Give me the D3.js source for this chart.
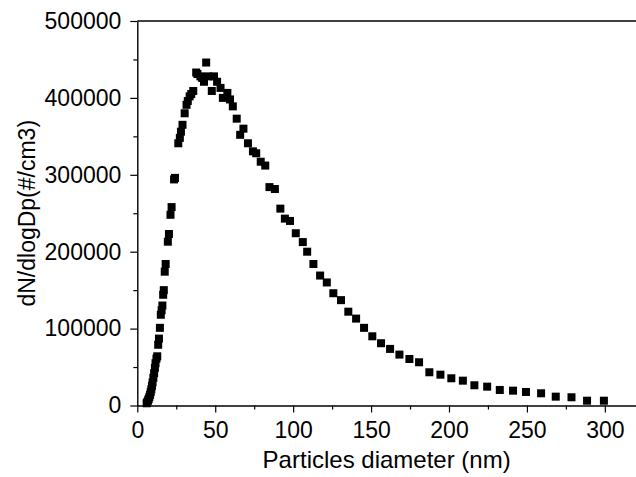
<!DOCTYPE html>
<html>
<head>
<meta charset="utf-8">
<script src="https://cdn.jsdelivr.net/npm/d3@7"></script>
<style>
  html, body { margin: 0; padding: 0; background: #fff; }
  svg text { font-family: "Liberation Sans", Arial, sans-serif; fill: #000; }
</style>
</head>
<body>
<svg id="chart" width="636" height="477"></svg>
<script>
// Particle size distribution
const diameter = [
  6.0, 6.4, 6.9, 7.3, 7.7, 8.2, 8.6, 9.0, 9.4, 9.8,
  10.3, 10.8, 11.3, 11.7, 12.3, 12.8, 13.4, 13.9, 14.5, 15.1,
  15.6, 16.1, 16.6, 17.0, 17.6, 18.2, 19.6, 20.3, 21.3, 22.0,
  23.6, 24.2, 26.3, 27.3, 28.0, 29.0, 30.4, 31.6, 32.4, 33.6,
  34.6, 35.9, 37.8, 38.6, 40.5, 41.6, 42.8, 44.2, 45.4, 47.8,
  49.2, 51.2, 53.4, 54.9, 57.8, 59.5, 61.3, 63.8, 66.0, 68.1,
  71.0, 74.2, 76.3, 79.2, 82.1, 84.8, 88.3, 91.8, 94.7, 98.0,
  101.7, 106.2, 109.0, 113.0, 117.3, 121.6, 125.8, 130.7, 135.4, 140.4,
  145.5, 150.8, 156.4, 162.2, 168.2, 174.6, 180.8, 187.4, 194.5, 201.5,
  208.9, 216.3, 224.5, 232.6, 241.1, 249.4, 259.1, 268.5, 278.6, 288.6,
  299.4
];
const dNdlogDp = [
  2900, 4500, 6500, 8500, 11000, 14000, 17500, 21000, 25500, 30000,
  36000, 42000, 49000, 55000, 61000, 64000, 79000, 87000, 101000, 118000,
  124000, 130000, 144000, 150000, 174000, 184000, 213000, 223000, 248000, 258000,
  294000, 296000, 341000, 348000, 356000, 365000, 380000, 391000, 396000, 402000,
  405000, 409000, 433000, 431000, 428000, 426000, 421000, 446000, 428000, 409000,
  428000, 421000, 413000, 400000, 406500, 398000, 389000, 373000, 352000, 360000,
  341000, 330500, 328000, 317000, 312000, 284000, 281500, 256000, 243000, 240000,
  224000, 212500, 200000, 184000, 169000, 160000, 146000, 137000, 122000, 113000,
  101000, 90000, 81000, 73600, 66200, 60500, 56200, 43200, 40100, 35400,
  32300, 26300, 24500, 20200, 19300, 17600, 15900, 11500, 10700, 6250,
  6250
];
const xTicks = [0, 50, 100, 150, 200, 250, 300];
const xMinor = [25, 75, 125, 175, 225, 275];
const yTicks = [0, 100000, 200000, 300000, 400000, 500000];
const yMinor = [50000, 150000, 250000, 350000, 450000];

const svg = d3.select('#chart');
const W = 636, H = 477;
const m = { top: 21, right: 0, bottom: 71.5, left: 137.3 };
const iw = W - m.left - m.right;
const ih = H - m.top - m.bottom;

const x = d3.scaleLinear().domain([0, 320]).range([0, iw]);
const y = d3.scaleLinear().domain([0, 500000]).range([ih, 0]);

const g = svg.append('g').attr('transform', `translate(${m.left},${m.top})`);

// minor ticks first, no labels
g.append('g').attr('transform', `translate(0,${ih})`)
  .call(d3.axisBottom(x).tickValues(xMinor).tickSize(4).tickSizeOuter(0).tickFormat(''))
  .call(a => a.select('.domain').remove());
g.append('g')
  .call(d3.axisLeft(y).tickValues(yMinor).tickSize(4).tickSizeOuter(0).tickFormat(''))
  .call(a => a.select('.domain').remove());

// major axes
const xAxis = g.append('g').attr('transform', `translate(0,${ih})`)
  .call(d3.axisBottom(x).tickValues(xTicks).tickSize(7).tickSizeOuter(0).tickPadding(9).tickFormat(d3.format('d')));
const yAxis = g.append('g')
  .call(d3.axisLeft(y).tickValues(yTicks).tickSize(7).tickSizeOuter(0).tickPadding(9).tickFormat(d3.format('d')));

[xAxis, yAxis].forEach(a => {
  a.selectAll('text').attr('font-size', 23).attr('font-family', '"Liberation Sans", Arial, sans-serif');
  a.select('.domain').attr('stroke-width', 1.4);
});
g.selectAll('.tick line').attr('stroke', '#000').attr('stroke-width', 1.2);

// top frame line
g.append('line')
  .attr('x1', 0).attr('x2', iw).attr('y1', 0).attr('y2', 0)
  .attr('stroke', '#000').attr('stroke-width', 1.4);

// square markers
const s = 8;
g.append('g').selectAll('rect')
  .data(diameter.map((d, i) => [d, dNdlogDp[i]]))
  .join('rect')
  .attr('x', d => x(d[0]) - s / 2)
  .attr('y', d => y(d[1]) - s / 2)
  .attr('width', s).attr('height', s)
  .attr('fill', '#000');

// axis titles
svg.append('text')
  .attr('x', m.left + x(160)).attr('y', 468)
  .attr('text-anchor', 'middle').attr('font-size', 24)
  .text('Particles diameter (nm)');

svg.append('text')
  .attr('transform', `translate(35,${m.top + ih / 2}) rotate(-90)`)
  .attr('text-anchor', 'middle').attr('font-size', 23)
  .text('dN/dlogDp(#/cm3)');
</script>
</body>
</html>
